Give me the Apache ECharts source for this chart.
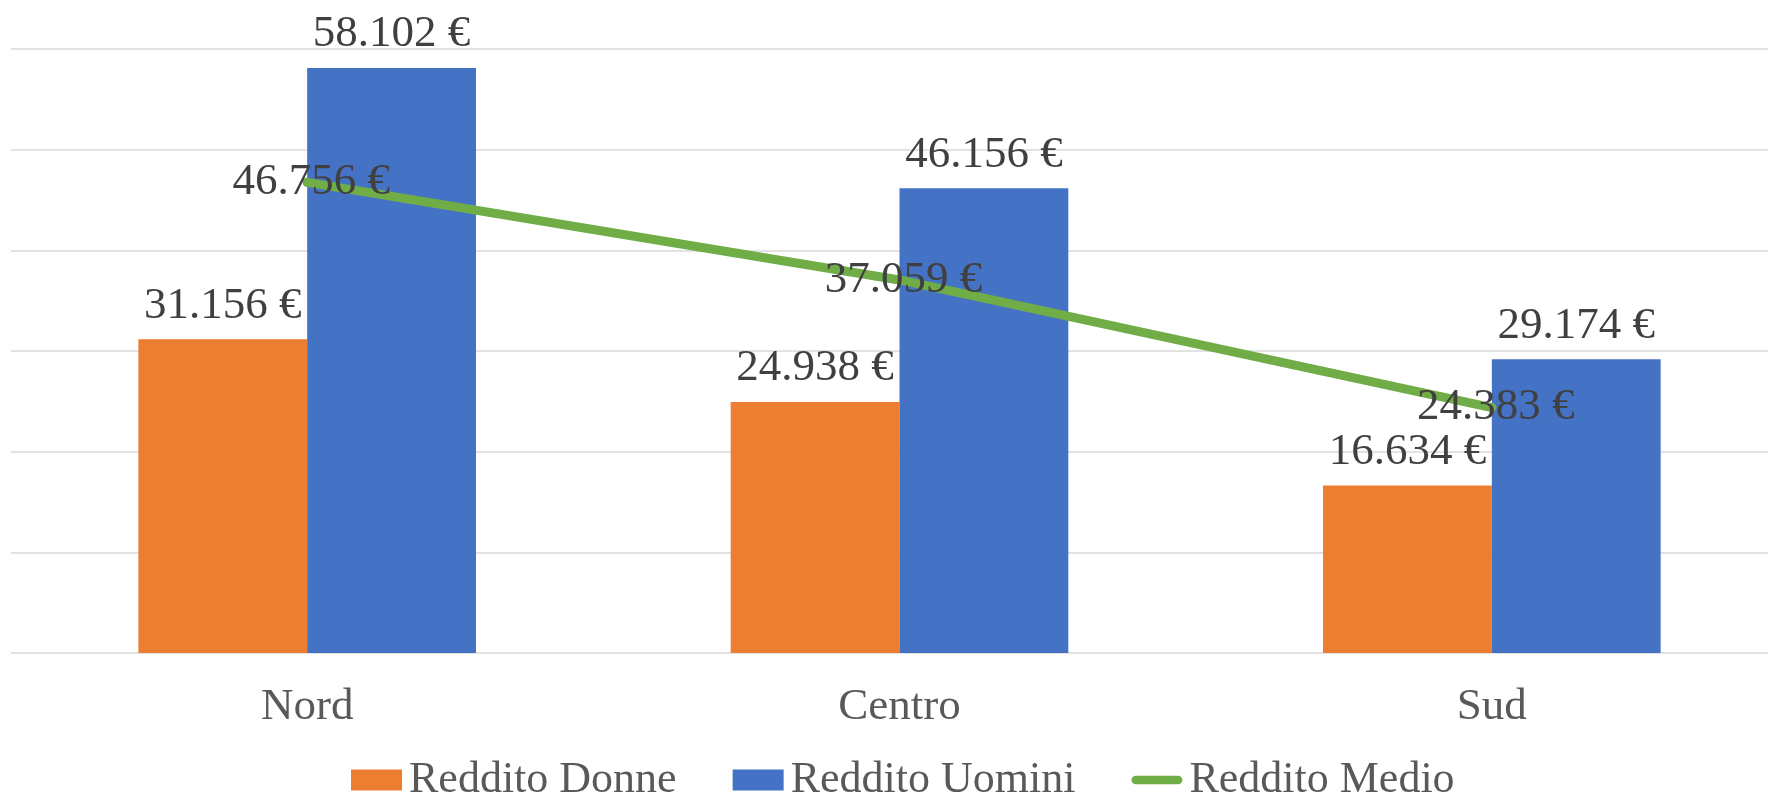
<!DOCTYPE html>
<html>
<head>
<meta charset="utf-8">
<script src="https://cdn.jsdelivr.net/npm/echarts@6/dist/echarts.min.js"></script>
<style>
html,body{margin:0;padding:0;background:#fff;overflow:hidden;width:1768px;height:794px;}
#chart{width:1800px;height:794px;}
</style>
</head>
<body>
<div id="chart"></div>
<script>
const categories = ['Nord', 'Centro', 'Sud'];
const redditoDonne = [31156, 24938, 16634];
const redditoUomini = [58102, 46156, 29174];
const redditoMedio = [46756, 37059, 24383];
const seriesNames = ['Reddito Donne', 'Reddito Uomini', 'Reddito Medio'];
const yTicks = [0, 10000, 20000, 30000, 40000, 50000, 60000];

const FONT = "'Liberation Serif', 'Times New Roman', serif";
function fmt(v) {
  return String(v).replace(/\B(?=(\d{3})+(?!\d))/g, '.') + ' €';
}
const labelStyle = {
  show: true,
  fontFamily: FONT,
  fontSize: 45,
  color: '#404040',
  formatter: p => fmt(p.value)
};

const chart = echarts.init(document.getElementById('chart'), null, {renderer: 'canvas'});
chart.setOption({
  animation: false,
  backgroundColor: '#ffffff',
  grid: {left: 11, width: 1777, top: 49, bottom: 141, containLabel: false},
  legend: {
    data: [
      {name: seriesNames[0], icon: 'rect'},
      {name: seriesNames[1], icon: 'rect'},
      {name: seriesNames[2], icon: 'path://M5,0 L54,0 A5,5 0 0 1 54,10 L5,10 A5,5 0 0 1 5,0 Z'}
    ],
    left: 346,
    top: 753,
    itemWidth: 51,
    itemHeight: 21,
    itemGap: 56,
    textStyle: {fontFamily: FONT, fontSize: 44, color: '#595959', padding: [0, 0, 0, 2]}
  },
  xAxis: {
    type: 'category',
    data: categories,
    axisLine: {show: false},
    axisTick: {show: false},
    axisLabel: {fontFamily: FONT, fontSize: 45, color: '#595959', margin: 32}
  },
  yAxis: {
    type: 'value',
    min: yTicks[0],
    max: yTicks[yTicks.length - 1],
    interval: yTicks[1] - yTicks[0],
    axisLabel: {show: false},
    axisLine: {show: false},
    axisTick: {show: false},
    splitLine: {lineStyle: {color: '#d9d9d9', width: 1.5}}
  },
  series: [
    {
      name: seriesNames[0],
      type: 'bar',
      data: redditoDonne,
      barGap: '0%',
      barCategoryGap: '43%',
      itemStyle: {color: '#ED7D31'},
      label: Object.assign({}, labelStyle, {position: 'top', distance: 11})
    },
    {
      name: seriesNames[1],
      type: 'bar',
      data: redditoUomini,
      barGap: '0%',
      barCategoryGap: '43%',
      itemStyle: {color: '#4472C4'},
      label: Object.assign({}, labelStyle, {position: 'top', distance: 11})
    },
    {
      name: seriesNames[2],
      type: 'line',
      data: redditoMedio,
      symbol: 'circle',
      symbolSize: 9,
      showSymbol: true,
      itemStyle: {color: '#70AD47'},
      lineStyle: {color: '#70AD47', width: 9, cap: 'round'},
      label: Object.assign({}, labelStyle, {position: 'inside', offset: [4, 0]}),
      z: 3
    }
  ]
});
</script>
</body>
</html>
